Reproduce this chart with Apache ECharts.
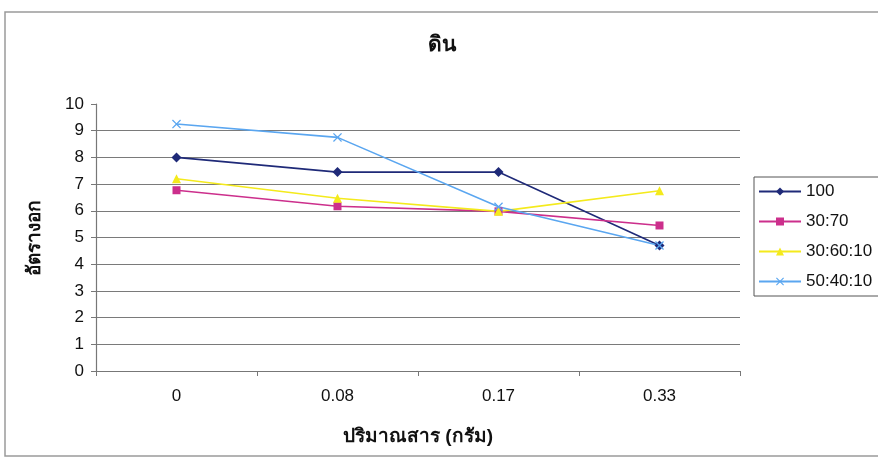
<!DOCTYPE html>
<html>
<head>
<meta charset="utf-8">
<script src="https://cdn.jsdelivr.net/npm/echarts@6/dist/echarts.min.js"></script>
<style>
  html, body { margin: 0; padding: 0; background: #fff; }
  #chart { width: 878px; height: 460px; }
</style>
</head>
<body>
<div id="chart"></div>
<script>
// ข้อมูลจากกราฟ
const categories = ['0', '0.08', '0.17', '0.33']
const s100 = [8.0, 7.45, 7.45, 4.7]
const s3070 = [6.77, 6.17, 5.98, 5.45]
const s306010 = [7.2, 6.47, 5.98, 6.75]
const s504010 = [9.25, 8.75, 6.15, 4.7]
const yTicks = [0, 10, 1] // min, max, interval

const font = "'Liberation Sans', 'Noto Sans', 'DejaVu Sans', sans-serif"
const crossPath = 'path://M0,1 L1,0 L5,4 L9,0 L10,1 L6,5 L10,9 L9,10 L5,6 L1,10 L0,9 L4,5 Z'

let myChart = echarts.init(document.getElementById('chart'))

function line(name, data, color, symbol, size) {
  return {
    name: name,
    type: 'line',
    data: data,
    symbol: symbol,
    symbolSize: size,
    showAllSymbol: true,
    lineStyle: { color: color, width: 1.6 },
    itemStyle: { color: color },
    emphasis: { disabled: true },
  }
}

myChart.setOption({
  animation: false,
  //กรอบของแผนภูมิ
  graphic: [
    {
      type: 'rect',
      shape: { x: 5, y: 12, width: 880, height: 444 },
      style: { fill: 'none', stroke: '#9a9a9a', lineWidth: 1.5 },
    },
  ],
  title: {
    text: 'ดิน',
    left: 437,
    top: 30,
    textAlign: 'center',
    textStyle: { fontFamily: font, fontSize: 21, fontWeight: 'bold', color: '#111' },
  },
  grid: { left: 96, right: 138, top: 104, bottom: 89 },
  legend: {
    orient: 'vertical',
    left: 754,
    top: 177,
    itemWidth: 42,
    itemHeight: 10,
    itemGap: 13,
    padding: [6, 8, 6, 4],
    borderColor: '#555',
    borderWidth: 1,
    textStyle: { fontFamily: font, fontSize: 17, color: '#111' },
    data: ['100', '30:70', '30:60:10', '50:40:10'],
  },
  xAxis: {
    type: 'category',
    data: categories,
    boundaryGap: true,
    name: 'ปริมาณสาร (กรัม)',
    nameLocation: 'middle',
    nameGap: 56,
    nameTextStyle: { fontFamily: font, fontSize: 19, fontWeight: 'bold', color: '#111' },
    axisLine: { lineStyle: { color: '#777', width: 1.2 } },
    axisTick: { show: true, length: 5, lineStyle: { color: '#777' } },
    axisLabel: { fontFamily: font, fontSize: 17, color: '#111', margin: 17 },
  },
  yAxis: {
    type: 'value',
    min: yTicks[0],
    max: yTicks[1],
    interval: yTicks[2],
    name: 'อัตรางอก',
    nameLocation: 'middle',
    nameGap: 52,
    nameRotate: 90,
    nameTextStyle: { fontFamily: font, fontSize: 19, fontWeight: 'bold', color: '#111' },
    axisLine: { show: true, lineStyle: { color: '#777', width: 1.2 } },
    axisTick: { show: true, length: 5, lineStyle: { color: '#777' } },
    axisLabel: { fontFamily: font, fontSize: 17, color: '#111', margin: 12 },
    splitLine: { show: true, showMaxLine: false, lineStyle: { color: '#7a7a7a', width: 1 } },
  },
  series: [
    line('100', s100, '#1f2a78', 'diamond', 10),
    line('30:70', s3070, '#cc2f8c', 'rect', 8),
    line('30:60:10', s306010, '#f4ea1c', 'triangle', 9),
    line('50:40:10', s504010, '#5aa6f0', crossPath, 9),
  ],
})
</script>
</body>
</html>
